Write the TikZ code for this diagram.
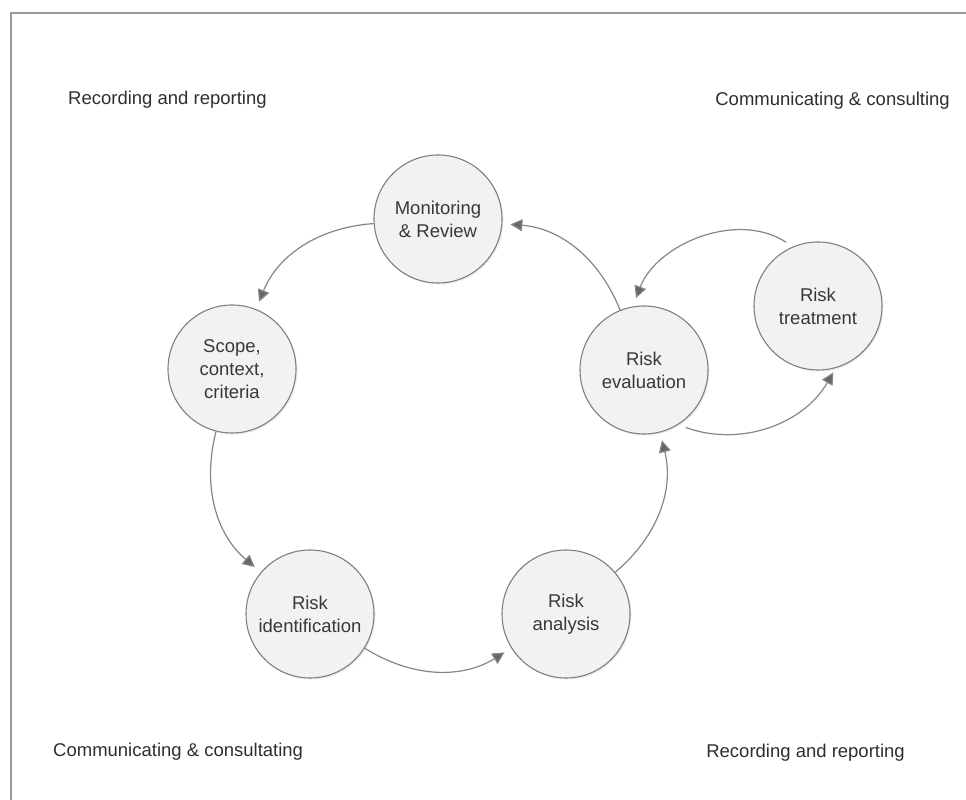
\documentclass[tikz,border=0pt]{standalone}
\usepackage{fontspec}
\setmainfont{Liberation Sans}
\usetikzlibrary{arrows.meta,shadows}
\newcommand{\diagfont}{\fontsize{18.5pt}{23pt}\selectfont}

\begin{document}
\begin{tikzpicture}[x=1pt,y=1pt,
    bubble/.style={circle,draw=black!50,line width=1.1pt,fill=black!5,
        drop shadow={shadow xshift=1.5pt,shadow yshift=-1.5pt,opacity=0.15},
        minimum size=128pt,inner sep=0pt,align=center,text=black!78,font=\diagfont},
    corner/.style={text=black!82,font=\diagfont,inner sep=0pt},
    flow/.style={draw=black!48,line width=1.2pt,shorten >=8pt,
        -{Triangle[length=12pt,width=12pt,fill=black!60]}}]
    \useasboundingbox (0,0) rectangle (966,800);

    % frame
    \draw[black!40,line width=2pt] (11,0) -- (11,787) -- (966,787);

    \node[bubble] (monitor) at (438,581) {Monitoring\\\& Review};
    \node[bubble] (scope) at (232,431) {Scope,\\context,\\criteria};
    \node[bubble] (identify) at (310,186) {Risk\\identification};
    \node[bubble] (analyse) at (566,186) {Risk\\analysis};
    \node[bubble] (evaluate) at (644,430) {Risk\\evaluation};
    \node[bubble] (treat) at (818,494) {Risk\\treatment};

    \node[corner,anchor=base west] (recTL) at (68,695) {Recording and reporting};
    \node[corner,anchor=base east] (comTR) at (950,694) {Communicating \& consulting};
    \node[corner,anchor=base west] (comBL) at (53,43) {Communicating \& consultating};
    \node[corner,anchor=base east] (recBR) at (905,42) {Recording and reporting};

    % main cycle
    \draw[flow] (monitor) to[bend right=32] (scope);
    \draw[flow] (scope) to[bend right=32] (identify);
    \draw[flow] (identify) to[bend right=32] (analyse);
    \draw[flow] (analyse) to[bend right=32] (evaluate);
    \draw[flow] (evaluate) to[bend right=32] (monitor);

    % treatment loop
    \draw[flow,shorten <=8pt,shorten >=5pt] (evaluate.-58) to[out=-20,in=240] (treat.-74);
    \draw[flow,shorten <=8pt,shorten >=9pt] (treat.113) to[out=147,in=69] (evaluate.100);
\end{tikzpicture}
\end{document}
